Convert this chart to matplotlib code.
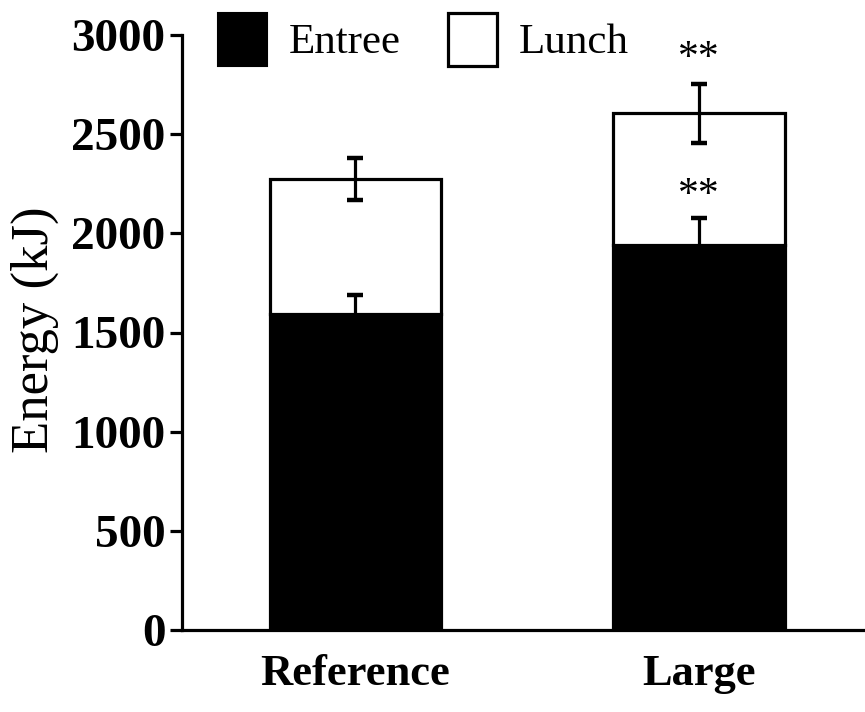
import matplotlib
matplotlib.use("Agg")
import matplotlib.pyplot as plt
from matplotlib.patches import Patch
import numpy as np

categories = ["Reference", "Large"]
entree = [1595, 1940]
entree_err = [95, 137]
lunch = [680, 665]
total_err = [106, 150]
legend_labels = ["Entree", "Lunch"]
yticks = [0, 500, 1000, 1500, 2000, 2500, 3000]

plt.rcParams["font.family"] = ["Liberation Serif", "DejaVu Serif"]

fig = plt.figure(figsize=(8.65, 7.12), dpi=100)
ax = fig.add_axes([182/865, 1-630/712, 1-182/865, (630-35)/712])

x = np.arange(len(categories))
totals = [e + l for e, l in zip(entree, lunch)]
lw = 2.3
ax.bar(x, entree, width=0.5, color="black", edgecolor="black", linewidth=lw, zorder=2)
ax.bar(x, lunch, width=0.5, bottom=entree, color="white", edgecolor="black", linewidth=lw, zorder=2)
ax.errorbar(x, entree, yerr=entree_err, fmt="none", ecolor="black", elinewidth=2.3,
            capsize=6, capthick=3.2, zorder=3)
ax.errorbar(x, totals, yerr=total_err, fmt="none", ecolor="black", elinewidth=2.3,
            capsize=6, capthick=3.2, zorder=3)

# significance marks
ax.text(1, totals[1] + total_err[1] + 30, "**", ha="center", va="bottom", fontsize=30)
ax.text(1, 2090, "**", ha="center", va="bottom", fontsize=30)

ax.set_xlim(-0.505, 1.483)
ax.set_ylim(0, 3000)
ax.set_yticks(yticks)
ax.set_yticklabels([str(t) for t in yticks], fontsize=34, fontweight="bold")
ax.set_xticks(x)
ax.set_xticklabels(categories, fontsize=32, fontweight="bold")
ax.tick_params(axis="x", length=0, pad=17)
ax.tick_params(axis="y", length=9, width=2.3, pad=3)
for s in ["top", "right"]:
    ax.spines[s].set_visible(False)
for s in ["left", "bottom"]:
    ax.spines[s].set_linewidth(2.3)
ax.set_ylabel("Energy (kJ)", fontsize=38)
ax.yaxis.set_label_coords(-0.18, 0.505)

handles = [Patch(facecolor="black", edgecolor="black", linewidth=1.5),
           Patch(facecolor="white", edgecolor="black", linewidth=2.3)]
fig.legend(handles, legend_labels, loc="upper left", bbox_to_anchor=(218/865, 1-13/712),
           ncol=2, frameon=False, fontsize=31, handlelength=1.14, handleheight=1.5,
           handletextpad=0.5, columnspacing=1.1, borderpad=0, borderaxespad=0)

fig.savefig("out.png", dpi=100)
